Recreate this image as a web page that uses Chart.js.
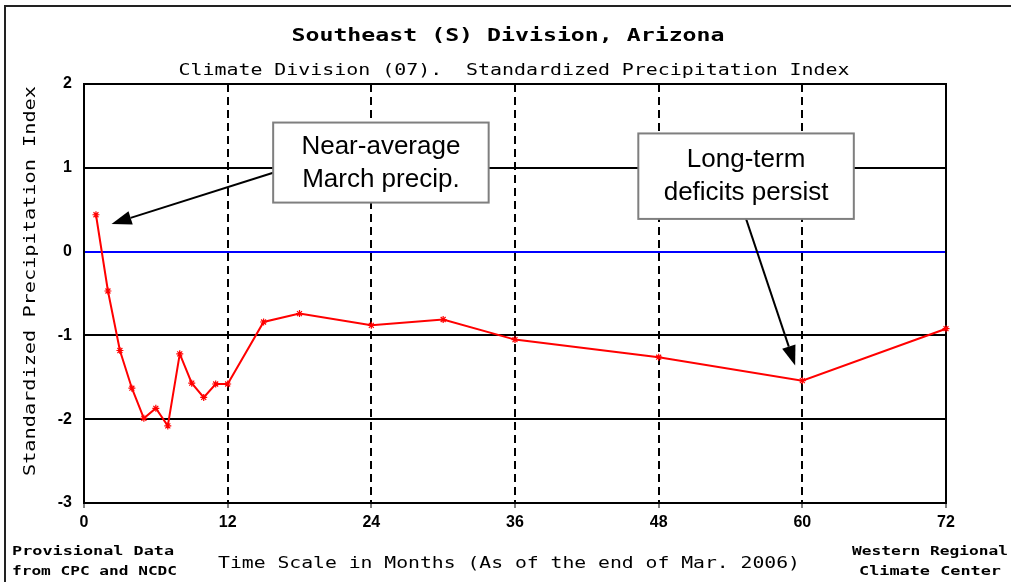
<!DOCTYPE html>
<html>
<head>
<meta charset="utf-8">
<script src="https://cdn.jsdelivr.net/npm/chart.js@4.4.1/dist/chart.umd.min.js"></script>
<style>
    html, body { margin: 0; padding: 0; background: #fff; }
    canvas { display: block; }
</style>
</head>
<body>
<canvas id="spiChart" width="1011" height="582"></canvas>
<script>
// SPI time scales (months) and values
const months = [1, 2, 3, 4, 5, 6, 7, 8, 9, 10, 11, 12, 15, 18, 24, 30, 36, 48, 60, 72];
const spiValues = [0.44, -0.47, -1.18, -1.63, -1.99, -1.87, -2.08, -1.22, -1.57, -1.74,
                   -1.58, -1.58, -0.84, -0.74, -0.88, -0.81, -1.05, -1.26, -1.54, -0.92];

const xTickValues = [0, 12, 24, 36, 48, 60, 72];
const yTickValues = [-3, -2, -1, 0, 1, 2];

const titleText = 'Southeast (S) Division, Arizona';
const subtitleText = 'Climate Division (07).  Standardized Precipitation Index';
const yTitleText = 'Standardized Precipitation Index';
const xTitleText = 'Time Scale in Months (As of the end of Mar. 2006)';
const footLeft = ['Provisional Data', 'from CPC and NCDC'];
const footRight = ['Western Regional', 'Climate Center'];

// callout boxes and arrows, in data units (months, SPI)
const notes = [
    { lines: ['Near-average', 'March precip.'], box: [15.8, 1.54, 33.8, 0.585],
      arrowFrom: [15.8, 0.94], arrowTo: [2.3, 0.33] },
    { lines: ['Long-term', 'deficits persist'], box: [46.3, 1.41, 64.3, 0.39],
      arrowFrom: [55.3, 0.39], arrowTo: [59.4, -1.36] }
];

const MONO = '"DejaVu Sans Mono", "Liberation Mono", monospace';
const TICK_FONT = { family: '"Liberation Sans", Arial, sans-serif', size: 16, weight: 'bold' };

// draw text squeezed/stretched horizontally to a target width (pixel font look)
function fitText(ctx, text, x, y, width, align) {
    let w = ctx.measureText(text).width;
    let sx = width / w;
    ctx.save();
    ctx.translate(x, y);
    ctx.scale(sx, 1);
    ctx.textAlign = align;
    ctx.fillText(text, 0, 0);
    ctx.restore();
}

function drawArrow(ctx, x1, y1, x2, y2) {
    let ang = Math.atan2(y2 - y1, x2 - x1);
    let len = 20, half = 7;
    let bx = x2 - len * Math.cos(ang);
    let by = y2 - len * Math.sin(ang);
    ctx.beginPath();
    ctx.moveTo(x1, y1);
    ctx.lineTo(bx, by);
    ctx.lineWidth = 2;
    ctx.strokeStyle = '#000';
    ctx.stroke();
    ctx.beginPath();
    ctx.moveTo(x2, y2);
    ctx.lineTo(bx + half * Math.sin(ang), by - half * Math.cos(ang));
    ctx.lineTo(bx - half * Math.sin(ang), by + half * Math.cos(ang));
    ctx.closePath();
    ctx.fillStyle = '#000';
    ctx.fill();
}

const decorPlugin = {
    id: 'decor',
    beforeDatasetsDraw(chart) {
        const ctx = chart.ctx;
        const a = chart.chartArea;
        ctx.save();
        // plot frame
        ctx.strokeStyle = '#000';
        ctx.lineWidth = 2;
        ctx.strokeRect(a.left, a.top, a.right - a.left, a.bottom - a.top);
        ctx.restore();
    },
    afterDraw(chart) {
        const ctx = chart.ctx;
        const xs = chart.scales.x, ys = chart.scales.y;
        ctx.save();

        // outer image frame
        ctx.strokeStyle = '#222';
        ctx.lineWidth = 2;
        ctx.beginPath();
        ctx.moveTo(5, 582);
        ctx.lineTo(5, 6);
        ctx.lineTo(1011, 6);
        ctx.stroke();

        ctx.fillStyle = '#000';
        ctx.textBaseline = 'middle';

        ctx.font = 'bold 18px ' + MONO;
        fitText(ctx, titleText, 508, 36, 433, 'center');

        ctx.font = '16px ' + MONO;
        fitText(ctx, subtitleText, 514, 71, 671, 'center');

        ctx.font = '16px ' + MONO;
        fitText(ctx, xTitleText, 509, 564, 582, 'center');

        ctx.save();
        ctx.translate(31, 281);
        ctx.rotate(-Math.PI / 2);
        fitText(ctx, yTitleText, 0, 0, 390, 'center');
        ctx.restore();

        ctx.font = 'bold 12px ' + MONO;
        fitText(ctx, footLeft[0], 12, 552, 162, 'left');
        fitText(ctx, footLeft[1], 12, 572, 165, 'left');
        fitText(ctx, footRight[0], 1008, 552, 156, 'right');
        fitText(ctx, footRight[1], 930, 572, 142, 'center');

        // callouts
        notes.forEach(n => {
            let l = xs.getPixelForValue(n.box[0]);
            let t = ys.getPixelForValue(n.box[1]);
            let r = xs.getPixelForValue(n.box[2]);
            let b = ys.getPixelForValue(n.box[3]);
            drawArrow(ctx,
                xs.getPixelForValue(n.arrowFrom[0]), ys.getPixelForValue(n.arrowFrom[1]),
                xs.getPixelForValue(n.arrowTo[0]), ys.getPixelForValue(n.arrowTo[1]));
            ctx.fillStyle = '#fff';
            ctx.fillRect(l, t, r - l, b - t);
            ctx.strokeStyle = '#7f7f7f';
            ctx.lineWidth = 2;
            ctx.strokeRect(l, t, r - l, b - t);
            ctx.fillStyle = '#000';
            ctx.font = '26px "Liberation Sans", Arial, sans-serif';
            ctx.textAlign = 'center';
            let cx = (l + r) / 2, cy = (t + b) / 2;
            ctx.fillText(n.lines[0], cx, cy - 16);
            ctx.fillText(n.lines[1], cx, cy + 17);
        });

        ctx.restore();
    }
};

const ctx = document.getElementById('spiChart');

const spiChart = new Chart(ctx, {
    type: 'line',
    data: {
        datasets: [{
            label: 'SPI',
            data: months.map((m, i) => ({ x: m, y: spiValues[i] })),
            borderColor: '#ff0000',
            borderWidth: 2,
            pointStyle: 'star',
            pointRadius: 3.5,
            pointBorderColor: '#ff0000',
            pointBorderWidth: 1.2,
            pointBackgroundColor: '#ff0000',
            tension: 0,
            clip: 8
        }]
    },
    options: {
        responsive: false,
        animation: false,
        devicePixelRatio: 1,
        layout: { padding: { top: 84, right: 65, left: 0, bottom: 0 } },
        plugins: {
            legend: { display: false },
            tooltip: { enabled: false },
            title: { display: false }
        },
        scales: {
            x: {
                type: 'linear',
                min: 0,
                max: 72,
                afterBuildTicks: (s) => { s.ticks = xTickValues.map(v => ({ value: v })); },
                afterFit: (s) => { s.height = 79; },
                ticks: {
                    color: '#000',
                    font: TICK_FONT,
                    padding: 5,
                    maxRotation: 0
                },
                grid: {
                    color: (c) => (c.tick && c.tick.value > 0 && c.tick.value < 72) ? '#000' : 'rgba(0,0,0,0)',
                    lineWidth: 2,
                    drawTicks: true,
                    tickLength: 5,
                    tickColor: '#000',
                    tickWidth: 1,
                    tickBorderDash: []
                },
                border: { display: false, dash: [8, 5] }
            },
            y: {
                min: -3,
                max: 2,
                afterBuildTicks: (s) => { s.ticks = yTickValues.map(v => ({ value: v })); },
                afterFit: (s) => { s.width = 84; },
                ticks: {
                    color: '#000',
                    font: TICK_FONT,
                    padding: 12
                },
                grid: {
                    color: (c) => {
                        if (!c.tick) return 'rgba(0,0,0,0)';
                        if (c.tick.value === 0) return '#0000ff';
                        if (c.tick.value === 2 || c.tick.value === -3) return 'rgba(0,0,0,0)';
                        return '#000';
                    },
                    lineWidth: 2,
                    drawTicks: false
                },
                border: { display: false }
            }
        }
    },
    plugins: [decorPlugin]
});
</script>
</body>
</html>
